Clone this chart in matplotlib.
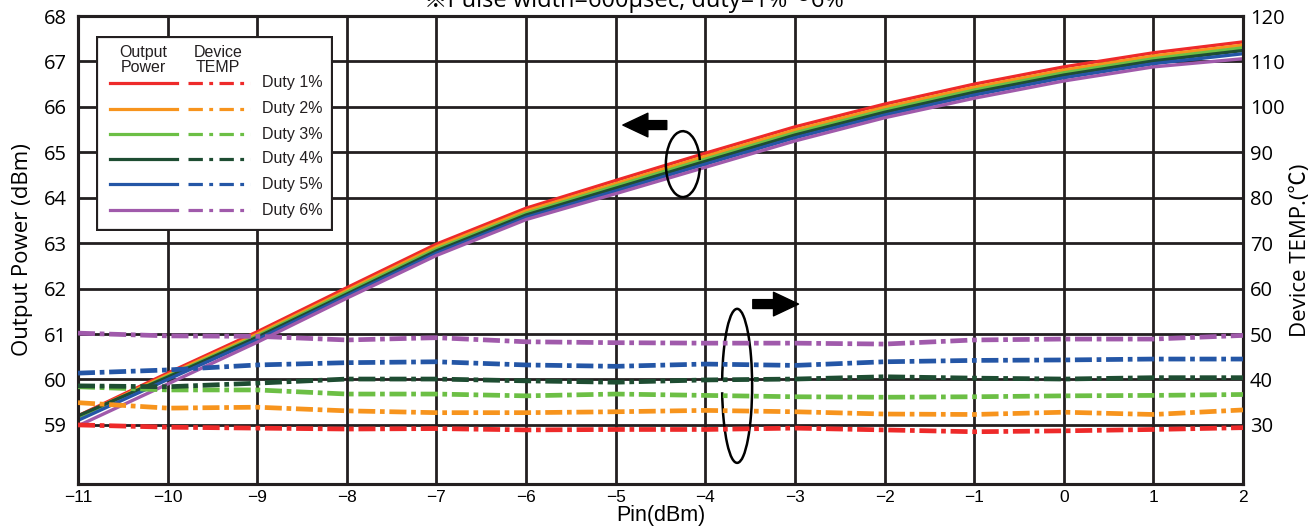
import matplotlib
matplotlib.use("Agg")
import matplotlib.pyplot as plt
from matplotlib.patches import Arc, Rectangle
from matplotlib.lines import Line2D

# ---- data ----
pin = [-11, -10, -9, -8, -7, -6, -5, -4, -3, -2, -1, 0, 1, 2]
duty_labels = ['Duty 1%', 'Duty 2%', 'Duty 3%', 'Duty 4%', 'Duty 5%', 'Duty 6%']
colors = ['#ee2a2a', '#f7941d', '#6cbf45', '#1e4d32', '#2456a6', '#a05aab']

# output power (dBm), left axis
pout_d1 = [59.20, 60.14, 61.05, 62.02, 62.98, 63.77, 64.38, 64.98, 65.56, 66.06, 66.50, 66.88, 67.19, 67.43]
pout_d2 = [59.18, 60.10, 61.00, 61.96, 62.92, 63.71, 64.31, 64.91, 65.49, 65.99, 66.43, 66.81, 67.12, 67.36]
pout_d3 = [59.17, 60.07, 60.96, 61.92, 62.87, 63.66, 64.26, 64.85, 65.43, 65.93, 66.37, 66.75, 67.06, 67.30]
pout_d4 = [59.20, 60.05, 60.93, 61.88, 62.83, 63.62, 64.21, 64.80, 65.38, 65.88, 66.32, 66.70, 67.01, 67.24]
pout_d5 = [59.10, 60.00, 60.88, 61.84, 62.78, 63.57, 64.15, 64.74, 65.32, 65.82, 66.26, 66.64, 66.95, 67.17]
pout_d6 = [58.98, 59.90, 60.82, 61.79, 62.73, 63.52, 64.09, 64.67, 65.25, 65.76, 66.19, 66.57, 66.88, 67.06]

# device temperature (degC), right axis
temp_d1 = [30.0, 29.5, 29.3, 29.1, 29.2, 28.9, 29.0, 29.0, 29.3, 28.9, 28.5, 28.7, 29.0, 29.4]
temp_d2 = [34.9, 33.7, 33.9, 33.1, 32.7, 32.7, 32.9, 33.2, 32.9, 32.4, 32.3, 32.8, 32.3, 33.3]
temp_d3 = [38.4, 37.7, 37.7, 36.8, 36.8, 36.4, 36.8, 36.5, 36.2, 36.1, 36.2, 36.4, 36.5, 36.7]
temp_d4 = [38.6, 38.4, 39.2, 40.1, 40.1, 39.7, 39.4, 39.9, 40.1, 40.6, 40.3, 40.1, 40.4, 40.4]
temp_d5 = [41.4, 42.1, 43.2, 43.7, 43.9, 43.2, 42.9, 43.4, 43.1, 43.9, 44.2, 44.3, 44.5, 44.5]
temp_d6 = [50.2, 49.6, 49.5, 48.7, 49.2, 48.3, 48.1, 48.0, 48.0, 47.8, 48.7, 48.9, 48.9, 49.7]

pout_all = [pout_d1, pout_d2, pout_d3, pout_d4, pout_d5, pout_d6]
temp_all = [temp_d1, temp_d2, temp_d3, temp_d4, temp_d5, temp_d6]

left_ticks = [59, 60, 61, 62, 63, 64, 65, 66, 67, 68]
right_ticks = [30, 40, 50, 60, 70, 80, 90, 100, 110, 120]

title = '※Pulse width=600μsec, duty=1%～6%'
num_font = ['Open Sans', 'DejaVu Sans']
narrow_font = ['Liberation Sans Narrow', 'Liberation Sans', 'DejaVu Sans']
cjk_font = ['Open Sans', 'Noto Sans CJK JP', 'DejaVu Sans']
leg_font = ['Liberation Sans', 'DejaVu Sans']

fig = plt.figure(figsize=(13.16, 5.26), dpi=100)
ax = fig.add_axes([78 / 1316, 42 / 526, (1243 - 78) / 1316, (484 - 16) / 526])
ax2 = ax.twinx()

ax.set_xlim(-11, 2)
ax.set_ylim(57.70, 68)
ax2.set_ylim(17.0, 120)

# grid
for xv in pin:
    ax.axvline(xv, color='#231f20', lw=2.0, zorder=1)
for yv in left_ticks:
    ax.axhline(yv, color='#231f20', lw=2.0, zorder=1)

dash_dot = (0, (3.6, 1.0, 1.0, 1.0))
for i in range(6):
    ax.plot(pin, pout_all[i], color=colors[i], lw=2.4, zorder=3)
    ax2.plot(pin, temp_all[i], color=colors[i], lw=3.4, linestyle=dash_dot, zorder=3)

for a in (ax, ax2):
    for s in a.spines.values():
        s.set_linewidth(2.2)
        s.set_color('#231f20')
ax.tick_params(axis='x', length=0, pad=4)
ax.tick_params(axis='y', length=0, pad=8)
ax2.tick_params(length=0, pad=5)

ax.set_xticks(pin)
ax.set_xticklabels([str(v).replace('-', '\u2212') for v in pin], family=narrow_font, fontsize=12.5)
ax.set_yticks(left_ticks)
ax.set_yticklabels([str(v) for v in left_ticks], family=num_font, fontsize=14.5)
ax2.set_yticks(right_ticks)
ax2.set_yticklabels([str(v) for v in right_ticks], family=num_font, fontsize=14.5)

ax.set_xlabel('Pin(dBm)', family=narrow_font, fontsize=15.5, labelpad=0)
ax.set_ylabel('Output Power (dBm)', family=num_font, fontsize=16, labelpad=8)
ax2.set_ylabel('Device TEMP.(℃)', family=cjk_font, fontsize=16, labelpad=4)

fig.text(634 / 1316, 0.998, title, family=cjk_font, fontsize=17, ha='center', va='center')

# circled-arrow annotations
arrow_style = 'simple,head_length=0.9,head_width=0.85,tail_width=0.32'
ax.add_patch(Arc((-4.25, 64.74), 0.38, 1.45, theta1=25, theta2=335, lw=1.8, color='black', zorder=5))
ax.annotate('', xy=(-4.92, 65.6), xytext=(-4.43, 65.6),
            arrowprops=dict(arrowstyle=arrow_style, mutation_scale=20, color='black',
                            shrinkA=0, shrinkB=0), zorder=5)
ax.add_patch(Arc((-3.645, 59.86), 0.335, 3.39, theta1=-140, theta2=140, lw=1.8, color='black', zorder=5))
ax.annotate('', xy=(-2.96, 61.66), xytext=(-3.47, 61.66),
            arrowprops=dict(arrowstyle=arrow_style, mutation_scale=20, color='black',
                            shrinkA=0, shrinkB=0), zorder=5)

# hand-built legend box (pixel layout)
lax = fig.add_axes([96 / 1316, (526 - 231) / 526, (333 - 96) / 1316, (231 - 36) / 526])
lax.set_xlim(96, 333)
lax.set_ylim(231, 36)
lax.axis('off')
lax.add_patch(Rectangle((97, 37), 235, 193, facecolor='white', edgecolor='#231f20', lw=1.6))
lax.text(143, 60, 'Output\nPower', ha='center', va='center', fontsize=11.5,
         family=leg_font, color='#231f20', linespacing=1.0)
lax.text(218, 60, 'Device\nTEMP', ha='center', va='center', fontsize=11.5,
         family=leg_font, color='#231f20', linespacing=1.0)
row_y = [83, 109, 134, 159, 184, 210]
for i in range(6):
    lax.add_line(Line2D([110, 177], [row_y[i], row_y[i]], color=colors[i], lw=2.3))
    lax.add_line(Line2D([188, 250], [row_y[i], row_y[i]], color=colors[i], lw=2.3,
                        linestyle=(0, (4.5, 2, 1.2, 2))))
    lax.text(262, row_y[i], duty_labels[i], ha='left', va='center', fontsize=11.5,
             family=leg_font, color='#231f20')

fig.savefig('out.png', dpi=100)
